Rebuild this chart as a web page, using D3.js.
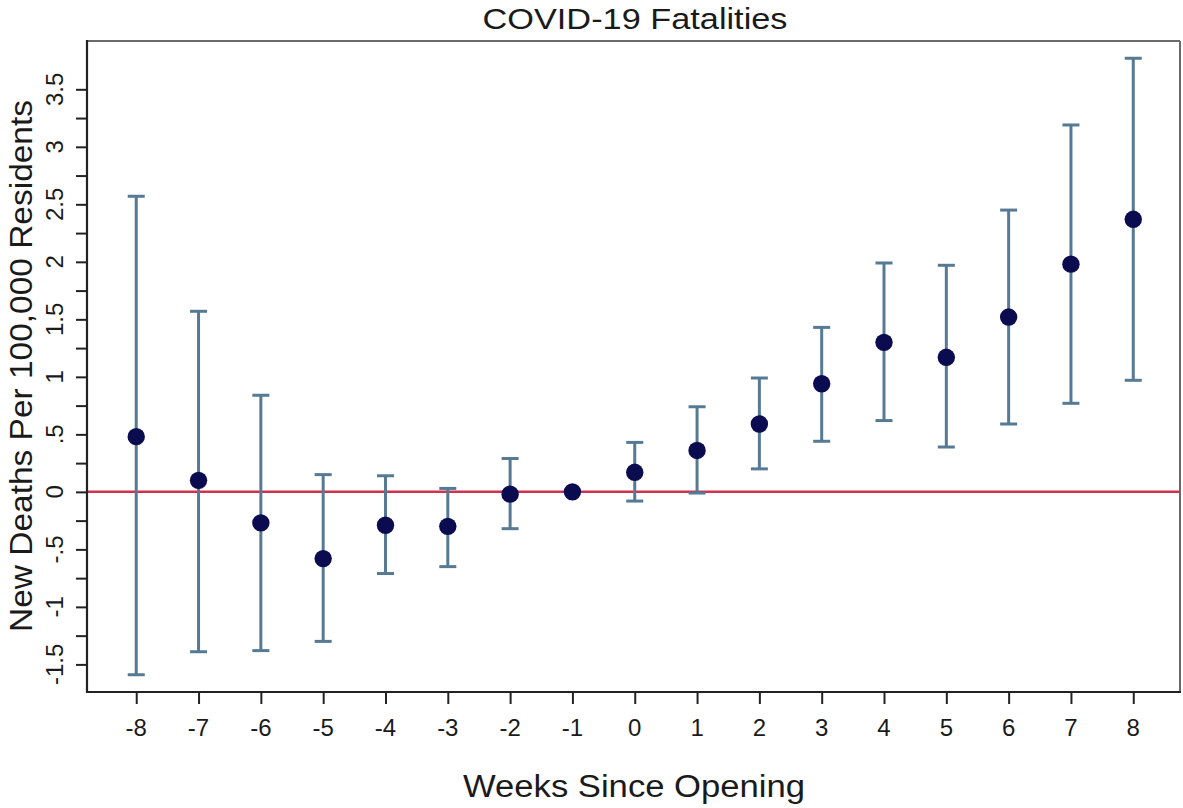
<!DOCTYPE html>
<html>
<head>
<meta charset="utf-8">
<script src="https://cdn.jsdelivr.net/npm/d3@7"></script>
<style>
  html, body { margin: 0; padding: 0; background: #fff; }
  svg { display: block; font-family: Arial, "Liberation Sans", Helvetica, sans-serif; }
</style>
</head>
<body>
<svg id="chart" width="1183" height="808"></svg>
<script>
// Event-study estimates: weeks relative to opening
const weeks = [-8, -7, -6, -5, -4, -3, -2, -1, 0, 1, 2, 3, 4, 5, 6, 7, 8];
// Point estimates (new deaths per 100,000 residents)
const estimates = [0.48, 0.10, -0.27, -0.58, -0.29, -0.30, -0.02, 0, 0.17, 0.36, 0.59, 0.94, 1.30, 1.17, 1.52, 1.98, 2.37];
// 95% confidence interval bounds (week -1 is the reference period)
const lower = [-1.59, -1.39, -1.38, -1.30, -0.71, -0.65, -0.32, null, -0.08, -0.01, 0.20, 0.44, 0.62, 0.39, 0.59, 0.77, 0.97];
const upper = [2.57, 1.57, 0.84, 0.15, 0.14, 0.03, 0.29, null, 0.43, 0.74, 0.99, 1.43, 1.99, 1.97, 2.45, 3.19, 3.77];
// Y axis ticks: marks every 0.25, labels every 0.5
const yTickValues = d3.range(-1.5, 3.5001, 0.25);
const yLabelValues = [-1.5, -1, -0.5, 0, 0.5, 1, 1.5, 2, 2.5, 3, 3.5];
const yLabelText = ["-1.5", "-1", "-.5", "0", ".5", "1", "1.5", "2", "2.5", "3", "3.5"];

const svg = d3.select("#chart");
const frame = { left: 87, right: 1180, top: 41, bottom: 692 };

const x = d3.scaleLinear().domain([-8.79, 8.75]).range([frame.left, frame.right]);
const y = d3.scaleLinear().domain([-1.74, 3.92]).range([frame.bottom, frame.top]);

// Plot frame: top and right edges in grey
svg.append("line")
  .attr("x1", frame.left).attr("x2", frame.right)
  .attr("y1", frame.top).attr("y2", frame.top)
  .attr("stroke", "#6a6a6a").attr("stroke-width", 2);
svg.append("line")
  .attr("x1", frame.right).attr("x2", frame.right)
  .attr("y1", frame.top).attr("y2", frame.bottom)
  .attr("stroke", "#6a6a6a").attr("stroke-width", 2);

// Reference line at zero
svg.append("line")
  .attr("x1", frame.left).attr("x2", frame.right)
  .attr("y1", y(0)).attr("y2", y(0))
  .attr("stroke", "#d2304f").attr("stroke-width", 2.5);

// Y axis
const yAxis = d3.axisLeft(y).tickValues(yTickValues).tickSize(11).tickFormat("");
const gy = svg.append("g").attr("transform", `translate(${frame.left},0)`).call(yAxis);
gy.select(".domain").remove();
gy.selectAll(".tick line").attr("stroke", "#222").attr("stroke-width", 2);
svg.append("line")
  .attr("x1", frame.left).attr("x2", frame.left)
  .attr("y1", frame.top - 1).attr("y2", frame.bottom + 1)
  .attr("stroke", "#222").attr("stroke-width", 2.2);

svg.append("g").selectAll("text")
  .data(yLabelValues)
  .join("text")
  .attr("transform", (d) => `translate(63,${y(d)}) rotate(-90)`)
  .attr("text-anchor", "middle")
  .attr("font-size", 24)
  .attr("fill", "#1a1a1a")
  .text((d, i) => yLabelText[i]);

// X axis
const xAxis = d3.axisBottom(x).tickValues(weeks).tickSize(12).tickFormat("");
const gx = svg.append("g").attr("transform", `translate(0,${frame.bottom})`).call(xAxis);
gx.select(".domain").remove();
gx.selectAll(".tick line").attr("stroke", "#222").attr("stroke-width", 2);
svg.append("line")
  .attr("x1", frame.left - 1).attr("x2", frame.right + 1)
  .attr("y1", frame.bottom).attr("y2", frame.bottom)
  .attr("stroke", "#222").attr("stroke-width", 2.2);

svg.append("g").selectAll("text")
  .data(weeks)
  .join("text")
  .attr("x", (d) => x(d))
  .attr("y", 736)
  .attr("text-anchor", "middle")
  .attr("font-size", 24)
  .attr("fill", "#1a1a1a")
  .text((d) => d);

// Confidence intervals
const ci = weeks.map((w, i) => ({ w, lo: lower[i], hi: upper[i] })).filter((d) => d.lo !== null);
const capHalf = 8.5;
const barColor = "#567a94";
const gci = svg.append("g").attr("stroke", barColor).attr("stroke-width", 3);
gci.selectAll("line.stem").data(ci).join("line").attr("class", "stem")
  .attr("x1", (d) => x(d.w)).attr("x2", (d) => x(d.w))
  .attr("y1", (d) => y(d.lo)).attr("y2", (d) => y(d.hi));
gci.selectAll("line.cap-hi").data(ci).join("line").attr("class", "cap-hi")
  .attr("x1", (d) => x(d.w) - capHalf).attr("x2", (d) => x(d.w) + capHalf)
  .attr("y1", (d) => y(d.hi)).attr("y2", (d) => y(d.hi));
gci.selectAll("line.cap-lo").data(ci).join("line").attr("class", "cap-lo")
  .attr("x1", (d) => x(d.w) - capHalf).attr("x2", (d) => x(d.w) + capHalf)
  .attr("y1", (d) => y(d.lo)).attr("y2", (d) => y(d.lo));

// Point estimates
svg.append("g").selectAll("circle")
  .data(weeks.map((w, i) => ({ w, v: estimates[i] })))
  .join("circle")
  .attr("cx", (d) => x(d.w))
  .attr("cy", (d) => y(d.v))
  .attr("r", 8.7)
  .attr("fill", "#0b0b4f");

// Titles
svg.append("text")
  .attr("x", 635).attr("y", 29)
  .attr("text-anchor", "middle")
  .attr("font-size", 29)
  .attr("textLength", 305).attr("lengthAdjust", "spacingAndGlyphs")
  .attr("fill", "#1a1a1a")
  .text("COVID-19 Fatalities");

svg.append("text")
  .attr("x", 634).attr("y", 797)
  .attr("text-anchor", "middle")
  .attr("font-size", 31)
  .attr("textLength", 342).attr("lengthAdjust", "spacingAndGlyphs")
  .attr("fill", "#1a1a1a")
  .text("Weeks Since Opening");

svg.append("text")
  .attr("transform", "translate(32,366) rotate(-90)")
  .attr("text-anchor", "middle")
  .attr("font-size", 31)
  .attr("textLength", 532).attr("lengthAdjust", "spacingAndGlyphs")
  .attr("fill", "#1a1a1a")
  .text("New Deaths Per 100,000 Residents");
</script>
</body>
</html>
